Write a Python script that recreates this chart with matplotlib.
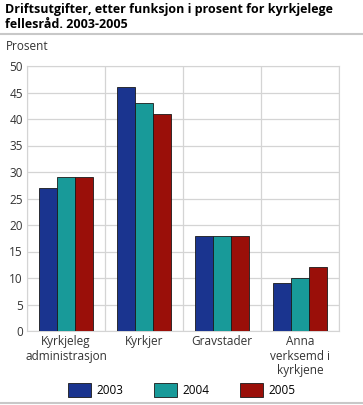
import matplotlib.pyplot as plt
import numpy as np

plt.rcParams['font.family'] = ['Open Sans', 'DejaVu Sans']

categories = ['Kyrkjeleg\nadministrasjon', 'Kyrkjer', 'Gravstader', 'Anna\nverksemd i\nkyrkjene']
years = ['2003', '2004', '2005']
v2003 = [27, 46, 18, 9]
v2004 = [29, 43, 18, 10]
v2005 = [29, 41, 18, 12]
colors = ['#1a348f', '#189a99', '#9a0f09']

fig = plt.figure(figsize=(3.63, 4.05), dpi=100)
ax = fig.add_axes([27 / 363, 1 - 331 / 405, 312 / 363, 265 / 405])

x = np.arange(len(categories))
w = 0.235
for i, (vals, c, lab) in enumerate(zip([v2003, v2004, v2005], colors, years)):
    ax.bar(x + (i - 1) * w, vals, w, color=c, edgecolor='#1a1a1a', linewidth=0.6,
           label=lab, zorder=3)

ax.set_xlim(-0.5, 3.5)
ax.set_ylim(0, 50)
ax.set_yticks(range(0, 51, 5))
ax.set_xticks(x)
ax.set_xticklabels(categories, fontsize=8.5, color='#333333', linespacing=1.15)
ax.tick_params(axis='y', labelsize=8.5, colors='#333333', length=0, pad=3)
ax.tick_params(axis='x', length=0, pad=3)
ax.set_xticks(np.arange(-0.5, 4, 1), minor=True)
ax.tick_params(axis='x', which='minor', length=0)
ax.grid(True, axis='y', color='#d4d4d4', linewidth=0.9, zorder=0)
ax.grid(True, axis='x', which='minor', color='#d4d4d4', linewidth=0.9, zorder=0)
for s in ax.spines.values():
    s.set_color('#d4d4d4')

fig.text(27 / 363, 1 - 50 / 405, 'Prosent', fontsize=8.5, color='#333333', ha='center')
fig.text(5 / 363, 1 - 3 / 405,
         'Driftsutgifter, etter funksjon i prosent for kyrkjelege\nfellesråd. 2003-2005',
         fontsize=9, fontweight='bold', va='top', ha='left', linespacing=1.15)
fig.add_artist(plt.Line2D([0, 1], [1 - 34 / 405, 1 - 34 / 405], color='#c8c8c8', linewidth=1.5))
fig.add_artist(plt.Line2D([0, 1], [1 - 403 / 405, 1 - 403 / 405], color='#c8c8c8', linewidth=1.5))

fig.legend(loc='center', bbox_to_anchor=(0.5, 1 - 390 / 405), ncol=3, frameon=False,
           fontsize=8.5, handlelength=2.0, handleheight=1.5, columnspacing=2.6,
           handletextpad=0.4)

fig.savefig('out.png', dpi=100)
